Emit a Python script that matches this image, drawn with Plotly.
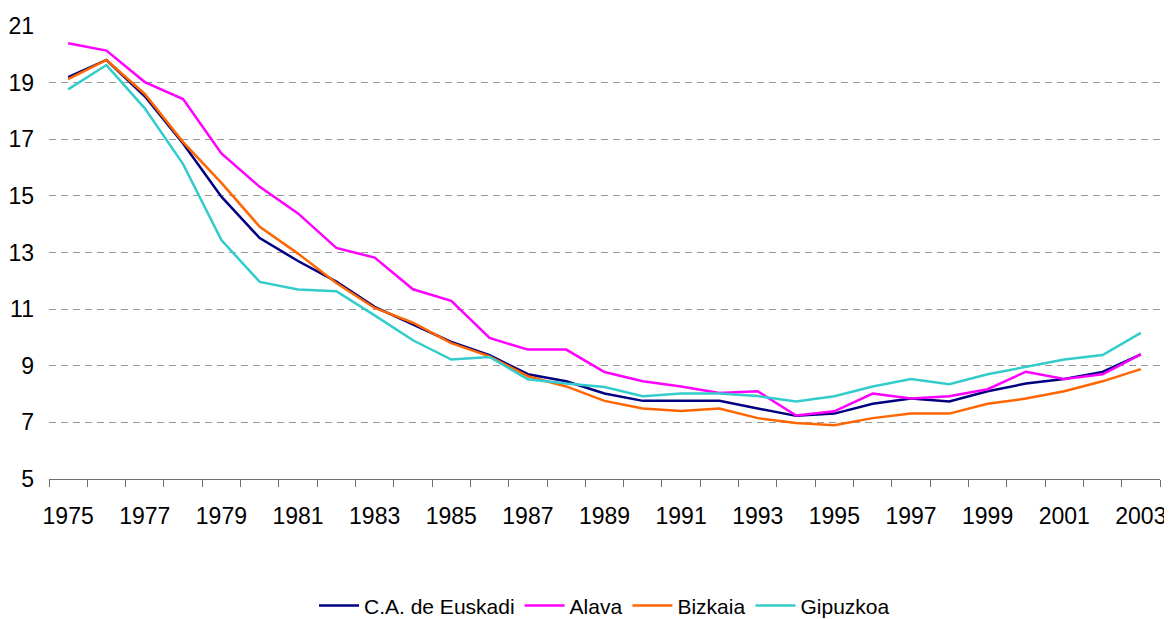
import plotly.graph_objects as go

years = list(range(1975, 2004))

euskadi = [19.19, 19.80, 18.52, 16.85, 14.97, 13.51, 12.70, 11.97, 11.08, 10.45,
           9.84, 9.37, 8.70, 8.45, 8.02, 7.76, 7.76, 7.76, 7.49, 7.23,
           7.31, 7.66, 7.84, 7.74, 8.10, 8.37, 8.53, 8.78, 9.40]
alava = [20.39, 20.13, 19.02, 18.42, 16.50, 15.32, 14.38, 13.16, 12.82, 11.70,
         11.29, 9.98, 9.57, 9.57, 8.78, 8.45, 8.27, 8.04, 8.10, 7.24,
         7.39, 8.02, 7.84, 7.92, 8.17, 8.79, 8.53, 8.70, 9.40]
bizkaia = [19.12, 19.80, 18.60, 16.90, 15.46, 13.91, 12.96, 11.92, 11.04, 10.52,
           9.80, 9.33, 8.63, 8.27, 7.76, 7.49, 7.40, 7.49, 7.15, 6.98,
           6.90, 7.15, 7.31, 7.31, 7.66, 7.84, 8.10, 8.45, 8.88]
gipuzkoa = [18.76, 19.62, 18.09, 16.12, 13.44, 11.96, 11.69, 11.63, 10.78, 9.90,
            9.22, 9.31, 8.52, 8.37, 8.25, 7.92, 8.02, 8.02, 7.93, 7.74,
            7.92, 8.27, 8.53, 8.35, 8.70, 8.96, 9.22, 9.38, 10.16]

series = [
    ("C.A. de Euskadi", euskadi, "#000080"),
    ("Alava", alava, "#FF00FF"),
    ("Bizkaia", bizkaia, "#FF6600"),
    ("Gipuzkoa", gipuzkoa, "#33CCCC"),
]

y_ticks = [5, 7, 9, 11, 13, 15, 17, 19, 21]
x_labels = [y for y in years if y % 2 == 1]

FONT = "Liberation Sans, Arial, sans-serif"

fig = go.Figure()
for name, vals, color in series:
    fig.add_trace(go.Scatter(x=years, y=vals, name=name, mode="lines",
                             line=dict(color=color, width=2.5)))

fig.update_layout(
    width=1172, height=619,
    paper_bgcolor="white", plot_bgcolor="white",
    margin=dict(l=41, r=20, t=18, b=148, autoexpand=False),
    font=dict(family=FONT, size=23, color="black"),
    showlegend=True,
    legend=dict(orientation="h", x=0.5, xanchor="center", y=-0.28, yanchor="middle",
                font=dict(family=FONT, size=21, color="black"),
                itemwidth=40, tracegroupgap=0),
)

fig.update_xaxes(
    automargin=False,
    range=[years[0] - 0.5, years[-1] + 0.5],
    tickmode="array", tickvals=x_labels, ticktext=[str(v) for v in x_labels],
    ticks="", showgrid=False, zeroline=False,
    showline=True, linecolor="#707070", linewidth=1,
    ticklabelstandoff=16,
    minor=dict(tickmode="array", tickvals=[y - 0.5 for y in years] + [years[-1] + 0.5],
               ticks="outside", ticklen=7, tickcolor="#707070", tickwidth=1, showgrid=False),
)
fig.update_yaxes(
    automargin=False,
    range=[y_ticks[0], y_ticks[-1]],
    tickmode="array", tickvals=y_ticks,
    ticks="", showline=False, zeroline=False,
    showgrid=True, gridcolor="#999999", gridwidth=1, griddash="7px,5px",
    ticklabelstandoff=14,
)

fig.write_html("out.html")
